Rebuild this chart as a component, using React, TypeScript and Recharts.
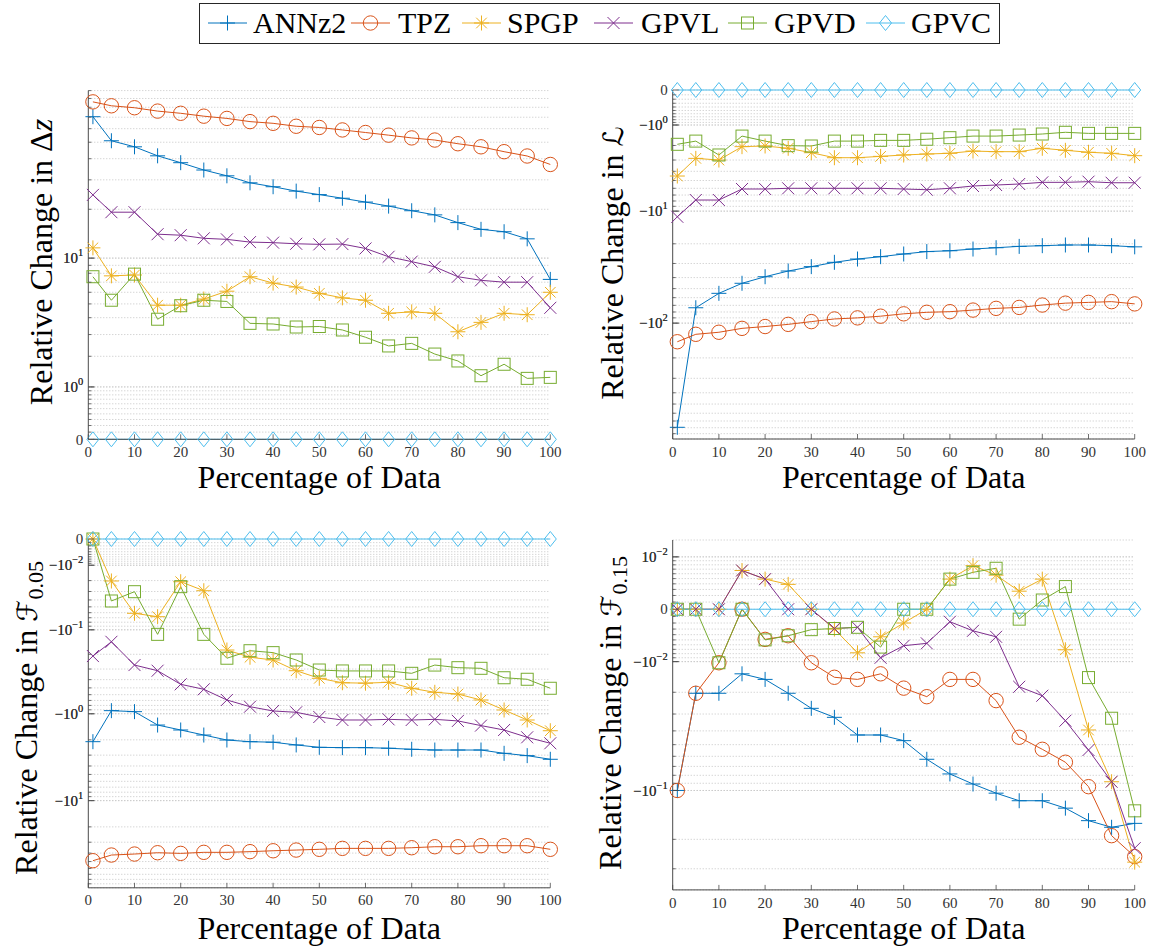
import React from 'react';
import { LineChart, Line, XAxis, YAxis, CartesianGrid } from 'recharts';

// ---------------- data ----------------
const percentData = [1, 5, 10, 15, 20, 25, 30, 35, 40, 45, 50, 55, 60, 65, 70, 75, 80, 85, 90, 95, 100];
const xTicks = [0, 10, 20, 30, 40, 50, 60, 70, 80, 90, 100];

const seriesNames = ['ANNz2', 'TPZ', 'SPGP', 'GPVL', 'GPVD', 'GPVC'];
const seriesColors = ['#0072BD', '#D95319', '#EDB120', '#7E2F8E', '#77AC30', '#4DBEEE'];
const seriesMarkers = ['plus', 'circle', 'asterisk', 'cross', 'square', 'diamond'];

// Panel 1: relative change in Δz
const dzANNz2 = [70.5, 51, 47, 41.6, 37.9, 34.3, 31.7, 28.8, 27.3, 25.7, 24.5, 23.3, 22.1, 20.9, 19.6, 18.5, 16.6, 15.1, 14.6, 13.2, 7.3];
const dzTPZ = [86, 81.6, 79.5, 76, 73.8, 71, 68.9, 66, 64.5, 62, 61, 59, 57, 55, 53, 51.5, 49, 47, 44, 41.5, 37];
const dzSPGP = [11.6, 7.7, 7.8, 4.9, 4.9, 5.4, 6.1, 7.6, 6.9, 6.5, 5.9, 5.5, 5.3, 4.3, 4.4, 4.3, 3.15, 3.7, 4.3, 4.2, 6.0];
const dzGPVL = [24.4, 19.2, 19.2, 14.1, 13.9, 13.3, 13.1, 12.6, 12.5, 12.3, 12.2, 12.25, 11.5, 10.2, 9.5, 8.8, 7.6, 7.2, 7.0, 7.0, 4.7];
const dzGPVD = [7.6, 5.3, 7.9, 3.9, 4.86, 5.3, 5.2, 3.64, 3.6, 3.42, 3.45, 3.25, 2.86, 2.44, 2.56, 2.09, 1.82, 1.32, 1.7, 1.24, 1.27];
const dzGPVC = [0, 0, 0, 0, 0, 0, 0, 0, 0, 0, 0, 0, 0, 0, 0, 0, 0, 0, 0, 0, 0];

// Panel 2: relative change in L
const lANNz2 = [-793, -73.5, -55, -44.9, -39.3, -35, -32, -29.3, -27.4, -26.1, -24.7, -23.5, -23.1, -22.3, -21.7, -21.1, -20.8, -20.5, -20.5, -20.8, -21.3];
const lTPZ = [-145, -125, -120, -111, -107, -102.5, -97, -92, -90, -87, -83, -80.5, -79.5, -77, -74.4, -73, -69.6, -67, -66, -65, -68];
const lSPGP = [-4.49, -2.87, -3.0, -2.07, -2.03, -2.17, -2.46, -2.82, -2.82, -2.72, -2.62, -2.55, -2.5, -2.35, -2.39, -2.39, -2.17, -2.3, -2.43, -2.5, -2.67];
const lGPVL = [-11.3, -7.83, -7.83, -6.1, -6.1, -6.0, -6.0, -6.0, -6.0, -6.0, -6.1, -6.2, -6.0, -5.69, -5.56, -5.43, -5.22, -5.22, -5.14, -5.27, -5.27];
const lGPVD = [-1.93, -1.75, -2.62, -1.49, -1.75, -2.01, -2.03, -1.75, -1.75, -1.71, -1.71, -1.65, -1.57, -1.49, -1.49, -1.44, -1.39, -1.31, -1.36, -1.36, -1.36];
const lGPVC = [0, 0, 0, 0, 0, 0, 0, 0, 0, 0, 0, 0, 0, 0, 0, 0, 0, 0, 0, 0, 0];

// Panel 3: relative change in F0.05
const f05ANNz2 = [-2.1, -0.92, -0.945, -1.35, -1.54, -1.76, -2.01, -2.1, -2.13, -2.29, -2.44, -2.46, -2.46, -2.5, -2.57, -2.62, -2.62, -2.62, -2.86, -3.04, -3.35];
const f05TPZ = [-48.9, -42.1, -41, -39.6, -40.3, -39.2, -39.2, -38.5, -37.6, -36.9, -36.2, -35.3, -35.3, -35.3, -34.7, -33.8, -33.8, -32.9, -32.9, -32.9, -36.2];
const f05SPGP = [0, -0.0203, -0.0611, -0.0678, -0.0209, -0.0292, -0.1775, -0.217, -0.234, -0.314, -0.386, -0.435, -0.44, -0.43, -0.505, -0.563, -0.59, -0.692, -0.904, -1.18, -1.57];
const f05GPVL = [-0.21, -0.141, -0.269, -0.314, -0.454, -0.519, -0.692, -0.828, -0.928, -0.961, -1.09, -1.18, -1.18, -1.16, -1.18, -1.16, -1.21, -1.37, -1.54, -1.87, -2.19];
const f05GPVD = [0, -0.0414, -0.0302, -0.114, -0.0252, -0.114, -0.223, -0.181, -0.191, -0.234, -0.308, -0.316, -0.316, -0.316, -0.337, -0.269, -0.289, -0.294, -0.38, -0.396, -0.505];
const f05GPVC = [0, 0, 0, 0, 0, 0, 0, 0, 0, 0, 0, 0, 0, 0, 0, 0, 0, 0, 0, 0, 0];

// Panel 4: relative change in F0.15
const f15ANNz2 = [-0.1, -0.0204, -0.0204, -0.0135, -0.0153, -0.0204, -0.0271, -0.0318, -0.0428, -0.0428, -0.0469, -0.0628, -0.0784, -0.091, -0.104, -0.116, -0.116, -0.129, -0.154, -0.169, -0.16];
const f15TPZ = [-0.1, -0.0204, -0.0103, 0, -0.0049, -0.0042, -0.0103, -0.0146, -0.0153, -0.0135, -0.0184, -0.0218, -0.0153, -0.0153, -0.0235, -0.0444, -0.0538, -0.0657, -0.0946, -0.19, -0.254];
const f15SPGP = [0, 0, 0, 0.0067, 0.0049, 0.0039, 0, -0.003, -0.0078, -0.0044, -0.002, 0, 0.0049, 0.0078, 0.0057, 0.0027, 0.0049, -0.0071, -0.0394, -0.088, -0.274];
const f15GPVL = [0, 0, 0, 0.0067, 0.0049, 0, 0, -0.0029, -0.0027, -0.009, -0.0062, -0.0057, -0.0018, -0.0033, -0.0044, -0.0179, -0.0214, -0.0337, -0.0544, -0.088, -0.226];
const f15GPVD = [0, 0, -0.0103, 0, -0.005, -0.0042, -0.0031, -0.0029, -0.0027, -0.0065, 0, 0, 0.0049, 0.0063, 0.0072, -0.0014, 0.0013, 0.0035, -0.0147, -0.0323, -0.134];
const f15GPVC = [0, 0, 0, 0, 0, 0, 0, 0, 0, 0, 0, 0, 0, 0, 0, 0, 0, 0, 0, 0, 0];

// tick labels (major ticks): sign, exponent (null => plain "0")
const dzMajors = [{ v: 0, sign: '', exp: null }, { v: 1, sign: '', exp: '0' }, { v: 10, sign: '', exp: '1' }];
const lMajors = [{ v: 0, sign: '', exp: null }, { v: -1, sign: '\u2212', exp: '0' }, { v: -10, sign: '\u2212', exp: '1' }, { v: -100, sign: '\u2212', exp: '2' }];
const f05Majors = [{ v: 0, sign: '', exp: null }, { v: -0.01, sign: '\u2212', exp: '\u22122' }, { v: -0.1, sign: '\u2212', exp: '\u22121' }, { v: -1, sign: '\u2212', exp: '0' }, { v: -10, sign: '\u2212', exp: '1' }];
const f15Majors = [{ v: 0.01, sign: '', exp: '\u22122' }, { v: 0, sign: '', exp: null }, { v: -0.01, sign: '\u2212', exp: '\u22122' }, { v: -0.1, sign: '\u2212', exp: '\u22121' }];

// minor tick / grid values
const mult = [1, 2, 3, 4, 5, 6, 7, 8, 9];
const decade = (base: number) => mult.map((m) => m * base);
const dzGrid = [...decade(0.1), ...decade(1), ...decade(10), 100];
const lGrid = [...decade(-0.1), ...decade(-1), ...decade(-10), ...decade(-100)];
const f05Grid = [...decade(-0.001), ...decade(-0.01), ...decade(-0.1), ...decade(-1), ...decade(-10)];
const f15Grid = [...decade(0.001), 0.01, ...decade(-0.001), ...decade(-0.01), -0.1, -0.2, -0.3];

// ---------------- helpers ----------------
const symlog = (v: number, c: number) => Math.sign(v) * Math.log10(1 + Math.abs(v) / c);
const FONT = "'Liberation Serif', 'DejaVu Serif', serif";
const SCRIPT_FONT = "'DejaVu Sans', 'DejaVu Serif', serif";
const AXIS_COLOR = '#4a4a4a';
const YW = 70;
const XH = 30;

function Marker({ shape, cx, cy, color }: any) {
  if (cx == null || cy == null || isNaN(cx) || isNaN(cy)) return null;
  const s: any = { stroke: color, strokeWidth: 1, fill: 'none' };
  switch (shape) {
    case 'plus': {
      const r = 7.5;
      return (
        <g {...s}>
          <line x1={cx - r} x2={cx + r} y1={cy} y2={cy} />
          <line x1={cx} x2={cx} y1={cy - r} y2={cy + r} />
        </g>
      );
    }
    case 'circle':
      return <circle cx={cx} cy={cy} r={7.2} {...s} />;
    case 'asterisk': {
      const r = 7.5;
      const d = 5.3;
      return (
        <g {...s}>
          <line x1={cx - r} x2={cx + r} y1={cy} y2={cy} />
          <line x1={cx} x2={cx} y1={cy - r} y2={cy + r} />
          <line x1={cx - d} x2={cx + d} y1={cy - d} y2={cy + d} />
          <line x1={cx - d} x2={cx + d} y1={cy + d} y2={cy - d} />
        </g>
      );
    }
    case 'cross': {
      const d = 6;
      return (
        <g {...s}>
          <line x1={cx - d} x2={cx + d} y1={cy - d} y2={cy + d} />
          <line x1={cx - d} x2={cx + d} y1={cy + d} y2={cy - d} />
        </g>
      );
    }
    case 'square':
      return <rect x={cx - 6} y={cy - 6} width={12} height={12} {...s} />;
    case 'diamond':
      return <path d={`M${cx},${cy - 7.5}L${cx + 6},${cy}L${cx},${cy + 7.5}L${cx - 6},${cy}Z`} {...s} />;
    default:
      return null;
  }
}

const makeYTick = (majors: any[], C: number) => (props: any) => {
  const { x, y, payload } = props;
  const val = payload.value;
  const m = majors.find((mj) => Math.abs(symlog(mj.v, C) - val) < 1e-9);
  const ax = x + 5;
  return (
    <g>
      <line x1={ax} x2={ax + (m ? 6 : 3)} y1={y} y2={y} stroke={AXIS_COLOR} strokeWidth={0.8} />
      {m && (
        <text x={x} y={y} dy="0.35em" textAnchor="end" fontFamily={FONT} fontSize={15} fill="#333">
          {m.exp === null ? (
            '0'
          ) : (
            <>
              {m.sign}10
              <tspan dy={-7} fontSize={10.5}>
                {m.exp}
              </tspan>
            </>
          )}
        </text>
      )}
    </g>
  );
};

const XTick = (props: any) => {
  const { x, y, payload } = props;
  const ay = y - 7;
  return (
    <g>
      <line x1={x} x2={x} y1={ay} y2={ay - 5} stroke={AXIS_COLOR} strokeWidth={0.8} />
      <text x={x} y={y} dy="0.71em" textAnchor="middle" fontFamily={FONT} fontSize={15} fill="#333">
        {payload.value}
      </text>
    </g>
  );
};

const panels = [
  {
    id: 'dz', C: 1, domain: [0, 100], majors: dzMajors, grid: dzGrid,
    series: [dzANNz2, dzTPZ, dzSPGP, dzGPVL, dzGPVD, dzGPVC],
    box: { left: 0, top: 60, w: 578, h: 470 }, plot: { x0: 88.3, x1: 550.3, y0: 90.6, y1: 439.3 },
  },
  {
    id: 'L', C: 1, domain: [-1000, 0], majors: lMajors, grid: lGrid,
    series: [lANNz2, lTPZ, lSPGP, lGPVL, lGPVD, lGPVC],
    box: { left: 580, top: 60, w: 576, h: 470 }, plot: { x0: 672.7, x1: 1134.7, y0: 90, y1: 439 },
  },
  {
    id: 'f05', C: 0.01, domain: [-100, 0], majors: f05Majors, grid: f05Grid,
    series: [f05ANNz2, f05TPZ, f05SPGP, f05GPVL, f05GPVD, f05GPVC],
    box: { left: 0, top: 510, w: 578, h: 437 }, plot: { x0: 88.3, x1: 550.3, y0: 539, y1: 887.8 },
  },
  {
    id: 'f15', C: 0.01, domain: [-0.4, 0.015], majors: f15Majors, grid: f15Grid,
    series: [f15ANNz2, f15TPZ, f15SPGP, f15GPVL, f15GPVD, f15GPVC],
    box: { left: 580, top: 510, w: 576, h: 437 }, plot: { x0: 672.7, x1: 1134.7, y0: 540, y1: 889.9 },
  },
];

function Panel({ p }: any) {
  const { C, box, plot } = p;
  const rows = percentData.map((x, i) => {
    const r: any = { p: x };
    p.series.forEach((s: number[], k: number) => {
      r['s' + k] = symlog(s[i], C);
    });
    return r;
  });
  const yDomain = [symlog(p.domain[0], C), symlog(p.domain[1], C)];
  const yTicks = [...p.majors.map((m: any) => m.v), ...p.grid]
    .map((v: number) => symlog(v, C))
    .sort((a: number, b: number) => a - b);
  const margin = {
    left: plot.x0 - box.left - YW,
    top: plot.y0 - box.top,
    right: box.left + box.w - plot.x1,
    bottom: box.top + box.h - plot.y1 - XH,
  };
  return (
    <div style={{ position: 'absolute', left: box.left, top: box.top, width: box.w, height: box.h }}>
      <LineChart width={box.w} height={box.h} data={rows} margin={margin}>
        <CartesianGrid vertical={false} stroke="#c4c4c4" strokeDasharray="1 2" strokeWidth={1} />
        <XAxis
          type="number"
          dataKey="p"
          domain={[0, 100]}
          ticks={xTicks}
          interval={0}
          tickSize={0}
          tickMargin={7}
          height={XH}
          axisLine={{ stroke: AXIS_COLOR, strokeWidth: 1 }}
          tickLine={false}
          tick={XTick}
        />
        <YAxis
          type="number"
          domain={yDomain}
          ticks={yTicks}
          interval={0}
          tickSize={0}
          tickMargin={5}
          width={YW}
          axisLine={{ stroke: AXIS_COLOR, strokeWidth: 1 }}
          tickLine={false}
          tick={makeYTick(p.majors, C)}
        />
        {seriesNames.map((name, k) => (
          <Line
            key={name}
            name={name}
            type="linear"
            dataKey={'s' + k}
            stroke={seriesColors[k]}
            strokeWidth={1}
            isAnimationActive={false}
            activeDot={false}
            dot={(dp: any) => (
              <Marker key={`${name}-${dp.index}`} shape={seriesMarkers[k]} cx={dp.cx} cy={dp.cy} color={seriesColors[k]} />
            )}
          />
        ))}
      </LineChart>
    </div>
  );
}

// legend layout
const legendIconX = [208, 351, 462, 594, 728, 866];
const legendTextX = [253, 398, 507, 641, 774, 911];

function Overlay() {
  const titleProps: any = { fontFamily: FONT, fontSize: 32, fill: '#000', textAnchor: 'middle' };
  return (
    <svg width={1156} height={947} style={{ position: 'absolute', left: 0, top: 0, pointerEvents: 'none' }}>
      {/* legend */}
      <rect x={199.5} y={3.5} width={800} height={40} fill="#fff" stroke="#262626" strokeWidth={1} />
      {seriesNames.map((name, k) => (
        <g key={name}>
          <line x1={legendIconX[k]} x2={legendIconX[k] + 39} y1={23} y2={23} stroke={seriesColors[k]} strokeWidth={1} />
          <Marker shape={seriesMarkers[k]} cx={legendIconX[k] + 19.5} cy={23} color={seriesColors[k]} />
          <text x={legendTextX[k]} y={33} fontFamily={FONT} fontSize={30} fill="#000">
            {name}
          </text>
        </g>
      ))}
      {/* x titles */}
      <text x={319.3} y={488} {...titleProps}>Percentage of Data</text>
      <text x={903.7} y={488} {...titleProps}>Percentage of Data</text>
      <text x={319.3} y={939} {...titleProps}>Percentage of Data</text>
      <text x={903.7} y={939} {...titleProps}>Percentage of Data</text>
      {/* y titles */}
      <text transform="translate(52,262) rotate(-90)" {...titleProps}>
        Relative Change in {'\u0394'}
        <tspan fontStyle="italic">z</tspan>
      </text>
      <text transform="translate(623,263) rotate(-90)" {...titleProps}>
        Relative Change in <tspan fontFamily={SCRIPT_FONT} fontSize={28}>{'\u2112'}</tspan>
      </text>
      <text transform="translate(37,718) rotate(-90)" {...titleProps}>
        Relative Change in <tspan fontFamily={SCRIPT_FONT} fontSize={28}>{'\u2131'}</tspan>
        <tspan fontSize={22} dy={6}>0.05</tspan>
      </text>
      <text transform="translate(621,713) rotate(-90)" {...titleProps}>
        Relative Change in <tspan fontFamily={SCRIPT_FONT} fontSize={28}>{'\u2131'}</tspan>
        <tspan fontSize={22} dy={6}>0.15</tspan>
      </text>
    </svg>
  );
}

export default function App() {
  return (
    <div style={{ position: 'absolute', left: 0, top: 0, width: 1156, height: 947, background: '#fff', overflow: 'hidden' }}>
      {panels.map((p) => (
        <Panel key={p.id} p={p} />
      ))}
      <Overlay />
    </div>
  );
}
